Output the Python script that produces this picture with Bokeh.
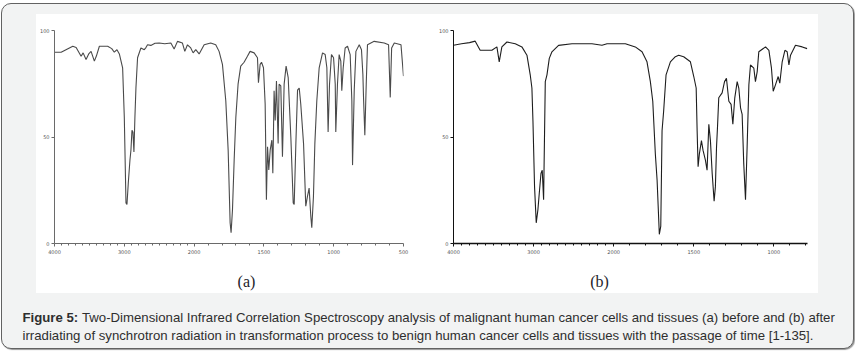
from bokeh.plotting import figure
from bokeh.models import Range1d, FixedTicker, Spacer
from bokeh.layouts import column, row
from bokeh.core.properties import value
from bokeh.embed import file_html
from bokeh.resources import INLINE

# ---------------- data ----------------
# Panel (a): wavenumber (cm-1) and transmittance (%)
a_wavenumber = [4000, 3905, 3738, 3690, 3619, 3590, 3548, 3510, 3476, 3429, 3400, 3357, 3238, 3180,
                3143, 3105, 3071, 3024, 3000, 2976, 2962, 2943, 2919, 2905, 2890, 2876, 2862, 2848,
                2833, 2810, 2762, 2714, 2690, 2667, 2620, 2560, 2500, 2420, 2333, 2286, 2238, 2167,
                2133, 2095, 2048, 2014, 1988, 1964, 1928, 1881, 1845, 1821, 1797, 1773, 1756, 1742,
                1735, 1725, 1713, 1701, 1685, 1666, 1642, 1618, 1599, 1570, 1546, 1539, 1527, 1517,
                1503, 1491, 1482, 1474, 1465, 1455, 1443, 1436, 1427, 1419, 1410, 1398, 1391, 1379,
                1367, 1355, 1341, 1326, 1307, 1290, 1283, 1271, 1259, 1247, 1236, 1216, 1200, 1188,
                1176, 1164, 1157, 1145, 1135, 1121, 1104, 1080, 1061, 1049, 1040, 1030, 1016, 1001,
                989, 985, 973, 961, 949, 942, 932, 918, 901, 882, 870, 865, 853, 841, 817, 801, 791,
                786, 777, 767, 758, 710, 638, 607, 595, 585, 566, 518, 500]
a_transmittance = [89.8, 89.8, 92.6, 92.0, 87.9, 89.5, 86.4, 89.0, 90.2, 85.6, 88.0, 92.6, 92.6, 91.5,
                   89.8, 91.0, 89.0, 82.5, 59.3, 19.0, 18.3, 28.3, 39.2, 43.8, 53.1, 52.3, 43.0, 59.3,
                   73.2, 87.2, 91.8, 91.0, 92.0, 93.3, 93.0, 94.0, 94.1, 93.8, 94.1, 91.3, 94.9, 94.1,
                   90.2, 93.3, 91.8, 89.5, 91.0, 89.0, 93.3, 94.1, 93.3, 90.2, 84.1, 67.0, 43.8, 9.8,
                   5.1, 15.9, 39.2, 59.3, 74.8, 83.3, 85.1, 87.9, 90.2, 89.5, 87.2, 75.5, 84.1, 85.1,
                   82.5, 65.5, 20.6, 45.4, 34.5, 43.8, 48.5, 33.0, 71.7, 57.7, 76.3, 46.9, 74.8, 74.0,
                   40.7, 74.8, 83.3, 77.9, 50.0, 19.0, 18.3, 46.9, 72.0, 73.0, 65.5, 46.9, 17.5, 22.1,
                   26.0, 12.8, 7.4, 22.1, 46.9, 67.0, 82.5, 89.5, 88.7, 82.5, 52.3, 74.8, 88.7, 87.2,
                   74.8, 52.3, 74.8, 88.7, 85.6, 71.7, 82.5, 91.8, 92.6, 88.7, 67.0, 36.8, 71.7, 90.2,
                   93.3, 91.0, 79.4, 67.8, 50.8, 74.8, 93.3, 94.9, 94.1, 93.3, 68.6, 91.8, 94.1, 93.3,
                   78.6]

# Panel (b)
b_wavenumber = [4000, 3900, 3800, 3729, 3667, 3625, 3521, 3458, 3429, 3396, 3333, 3229, 3146, 3083,
                3042, 3021, 3008, 2988, 2967, 2946, 2929, 2908, 2892, 2875, 2854, 2833, 2804, 2771,
                2688, 2521, 2271, 2146, 2083, 1927, 1865, 1823, 1792, 1771, 1756, 1740, 1729, 1715,
                1706, 1698, 1688, 1673, 1646, 1615, 1594, 1563, 1521, 1500, 1485, 1479, 1473, 1465,
                1452, 1442, 1427, 1417, 1406, 1396, 1385, 1373, 1365, 1358, 1352, 1344, 1323, 1308,
                1296, 1281, 1267, 1256, 1244, 1229, 1219, 1208, 1198, 1188, 1177, 1167, 1156, 1146,
                1125, 1115, 1104, 1094, 1052, 1031, 1015, 1004, 990, 973, 963, 948, 931, 917, 906,
                896, 865, 823, 792]
b_transmittance = [93.1, 93.8, 94.3, 95.0, 90.7, 90.7, 90.7, 92.3, 85.3, 92.3, 94.6, 93.8, 92.3, 88.4,
                   79.2, 73.0, 57.6, 26.7, 9.7, 15.9, 23.6, 32.9, 34.4, 20.5, 76.0, 79.2, 86.9, 90.0,
                   93.0, 93.8, 93.8, 93.1, 93.8, 93.8, 92.3, 90.0, 85.3, 76.0, 66.8, 42.1, 29.8, 4.3,
                   8.2, 52.9, 62.2, 79.2, 85.3, 87.7, 88.4, 87.7, 85.3, 78.4, 73.0, 52.9, 36.0, 42.1,
                   48.3, 43.7, 39.0, 34.4, 56.0, 48.3, 32.9, 19.8, 26.7, 45.2, 54.5, 68.4, 70.7, 76.0,
                   77.6, 66.8, 65.3, 56.0, 68.4, 76.0, 73.0, 63.7, 60.6, 37.5, 20.5, 45.2, 74.5, 83.8,
                   82.3, 76.0, 80.7, 90.0, 92.3, 90.7, 82.3, 71.5, 74.5, 78.4, 75.3, 85.3, 90.7, 90.0,
                   83.8, 88.4, 93.1, 92.3, 91.5]

a_tick_wavenumbers = [4000, 3000, 2000, 1500, 1000, 500]
a_tick_labels = ["4000", "3000", "2000", "1500", "1000", "500"]
b_tick_wavenumbers = [4000, 3000, 2000, 1500, 1000]
b_tick_labels = ["4000", "3000", "2000", "1500", "1000"]
a_axis_end = 500
b_axis_end = 790
y_ticks = [0, 50, 100]
y_tick_labels = ["0", "50", "100"]
panel_labels = ["(a)", "(b)"]
caption_bold = "Figure 5:"
caption_line1 = ("Two-Dimensional Infrared Correlation Spectroscopy analysis of malignant human "
                 "cancer cells and tissues (a) before and (b) after")
caption_line2 = ("irradiating of synchrotron radiation in transformation process to benign human "
                 "cancer cells and tissues with the passage of time [1-135].")


def ir_scale(w):
    """Usual FTIR axis: 1000 cm-1 per unit above 2000 cm-1, 500 cm-1 per unit below."""
    return (4000 - w) / 1000 if w >= 2000 else 2 + (2000 - w) / 500


def make_panel(wn, tr, ticks, tick_labels, end, geo, axis_color, line_color, xaxis_width):
    left, right, top, bottom = geo
    p = figure(width=391, height=248, output_backend="svg", toolbar_location=None,
               x_range=Range1d(0, ir_scale(end)), y_range=Range1d(0, 100),
               min_border_left=left, min_border_right=right,
               min_border_top=top, min_border_bottom=bottom,
               background_fill_color="white", border_fill_color="white",
               outline_line_color=None)
    p.grid.visible = False
    p.line([ir_scale(w) for w in wn], tr, line_color=line_color, line_width=1.1)

    major = [ir_scale(w) for w in ticks]
    minor = [ir_scale(w) for w in range(3900, end, -100) if w not in ticks]
    xa = p.xaxis[0]
    xa.ticker = FixedTicker(ticks=major, minor_ticks=minor)
    xa.major_label_overrides = {int(round(m)): t for m, t in zip(major, tick_labels)}
    xa.axis_line_color = axis_color
    xa.axis_line_width = xaxis_width
    xa.major_tick_line_color = axis_color
    xa.minor_tick_line_color = axis_color
    xa.major_tick_out = 3
    xa.major_tick_in = 0
    xa.minor_tick_out = 2
    xa.minor_tick_in = 0
    xa.major_label_standoff = 3
    xa.major_label_text_font = "DejaVu Sans"
    xa.major_label_text_font_size = "5px"
    xa.major_label_text_color = "#555555"

    ya = p.yaxis[0]
    ya.ticker = FixedTicker(ticks=y_ticks)
    ya.major_label_overrides = {v: t for v, t in zip(y_ticks, y_tick_labels)}
    ya.axis_line_color = axis_color
    ya.major_tick_line_color = axis_color
    ya.minor_tick_line_color = None
    ya.major_tick_out = 3
    ya.major_tick_in = 0
    ya.major_label_standoff = 2
    ya.major_label_text_font = "DejaVu Sans"
    ya.major_label_text_font_size = "5px"
    ya.major_label_text_color = "#555555"
    return p


fig_a = make_panel(a_wavenumber, a_transmittance, a_tick_wavenumbers, a_tick_labels, a_axis_end,
                   (17, 24, 13, 19), "#6a6a6a", "#4a4a4a", 1)
fig_b = make_panel(b_wavenumber, b_transmittance, b_tick_wavenumbers, b_tick_labels, b_axis_end,
                   (26, 11, 16, 16), "#111111", "#1e1e1e", 1.6)

# strip with the (a) / (b) panel labels, in page-pixel coordinates
strip = figure(width=782, height=31, output_backend="svg", toolbar_location=None,
               x_range=Range1d(36, 818), y_range=Range1d(293, 262),
               x_axis_type=None, y_axis_type=None, min_border=0,
               background_fill_color="white", border_fill_color="white", outline_line_color=None)
strip.grid.visible = False
strip.text(x=[246, 599], y=[281, 281], text=panel_labels, text_font=value("Liberation Serif"),
           text_font_size="16px", text_color="#1c1c2a", text_align="center", text_baseline="middle")

# caption strip
cap = figure(width=851, height=55, output_backend="svg", toolbar_location=None,
             x_range=Range1d(0, 851), y_range=Range1d(55, 0),
             x_axis_type=None, y_axis_type=None, min_border=0,
             background_fill_alpha=0, border_fill_alpha=0, outline_line_color=None)
cap.grid.visible = False
font = value("Liberation Sans")
cap.text(x=[20], y=[24], text=[caption_bold], text_font=font, text_font_style="bold",
         text_font_size="13.2px", text_color="#2e2e2e", text_baseline="alphabetic", text_align="left")
cap.text(x=[79.5], y=[24], text=[caption_line1], text_font=font,
         text_font_size="13.2px", text_color="#2e2e2e", text_baseline="alphabetic", text_align="left")
cap.text(x=[20], y=[42], text=[caption_line2], text_font=font,
         text_font_size="13.2px", text_color="#2e2e2e", text_baseline="alphabetic", text_align="left")

white = column(row(fig_a, fig_b, spacing=0), strip, spacing=0,
               styles={"background-color": "white"})

layout = column(
    Spacer(width=851, height=10),
    row(Spacer(width=34, height=279), white, spacing=0),
    cap,
    spacing=0,
    styles={"background-color": "#f2f3f3", "border": "1px solid #626262",
            "border-radius": "10px", "box-shadow": "1px 1px 1px #9a9a9a",
            "margin-left": "1px", "margin-top": "3px"},
)

open("out.html", "w").write(file_html(layout, INLINE))
